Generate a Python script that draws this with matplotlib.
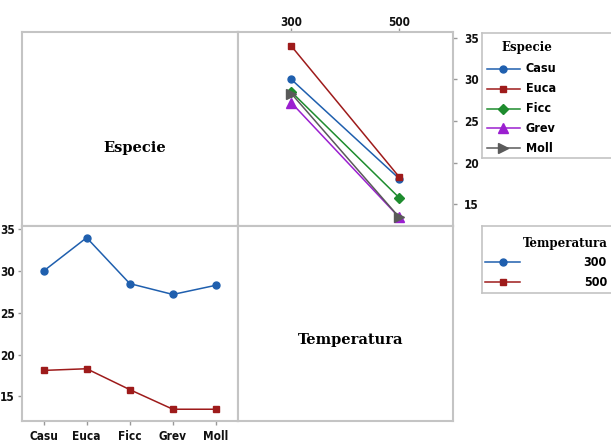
import matplotlib
matplotlib.use("Agg")
import matplotlib.pyplot as plt

# data: mean response by Especie x Temperatura
especies = ["Casu", "Euca", "Ficc", "Grev", "Moll"]
temperaturas = ["300", "500"]
media_300 = [30.0, 34.0, 28.5, 27.2, 28.3]
media_500 = [18.1, 18.3, 15.8, 13.45, 13.45]
y_ticks = [15, 20, 25, 30, 35]

esp_colors = ["#1f5fae", "#9e1b1b", "#1e8c2e", "#9b1fd0", "#5a5a5a"]
esp_markers = ["o", "s", "D", "^", ">"]
esp_msize = [5, 5, 5, 7, 7]
temp_colors = ["#1f5fae", "#9e1b1b"]
temp_markers = ["o", "s"]

W, H = 611, 443
tick_font = "DejaVu Sans"
title_font = "DejaVu Serif"
spine_col = "#c4c4c4"

fig = plt.figure(figsize=(W / 100, H / 100), dpi=100)


def px_axes(x0, y0, x1, y1):
    # pixel box (top-left origin) -> figure axes
    return fig.add_axes([x0 / W, 1 - y1 / H, (x1 - x0) / W, (y1 - y0) / H])


def style(ax):
    for s in ax.spines.values():
        s.set_color(spine_col)
        s.set_linewidth(1.5)
    ax.tick_params(colors="#111111", length=3, width=1, labelsize=8.5, pad=2)
    ax.tick_params(axis="both", color="#999999")
    for lab in ax.get_xticklabels() + ax.get_yticklabels():
        lab.set_family(tick_font)
        lab.set_stretch("condensed")
        lab.set_fontweight("bold")


xl, xm, xr = 22, 237.5, 453
yt, ym, yb = 32, 226, 420.5

ax_tl = px_axes(xl, yt, xm, ym)
ax_tr = px_axes(xm, yt, xr, ym)
ax_bl = px_axes(xl, ym, xm, yb)
ax_br = px_axes(xm, ym, xr, yb)

# top-left / bottom-right: variable names only
for ax, name, pos in [(ax_tl, "Especie", (0.524, 0.402)),
                      (ax_br, "Temperatura", (0.527, 0.414))]:
    ax.set_xticks([])
    ax.set_yticks([])
    for s in ax.spines.values():
        s.set_color(spine_col)
        s.set_linewidth(1.5)
    ax.text(pos[0], pos[1], name, ha="center", va="center", transform=ax.transAxes,
            family=title_font, fontweight="bold", fontsize=10.5)

# top-right: x = Temperatura, one line per Especie
for i, esp in enumerate(especies):
    ax_tr.plot([0, 1], [media_300[i], media_500[i]], color=esp_colors[i],
               marker=esp_markers[i], ms=esp_msize[i], lw=1.1)
ax_tr.set_xlim(-0.5, 1.5)
ax_tr.set_ylim(12.4, 35.7)
ax_tr.set_xticks([0, 1])
ax_tr.set_xticklabels(temperaturas)
ax_tr.set_yticks(y_ticks)
ax_tr.xaxis.tick_top()
ax_tr.yaxis.tick_right()
style(ax_tr)
ax_tr.tick_params(axis="y", pad=5)
ax_tr.tick_params(axis="x", pad=-1)

# bottom-left: x = Especie, one line per Temperatura
xs = list(range(len(especies)))
for vals, c, m in zip([media_300, media_500], temp_colors, temp_markers):
    ax_bl.plot(xs, vals, color=c, marker=m, ms=5, lw=1.1)
ax_bl.set_xlim(-0.5, 4.5)
ax_bl.set_ylim(12.1, 35.4)
ax_bl.set_xticks(xs)
ax_bl.set_xticklabels(especies)
ax_bl.set_yticks(y_ticks)
style(ax_bl)
ax_bl.tick_params(axis="x", pad=4)

# legend: Especie
lg1 = px_axes(482, 33, 640, 158)
lg1.set_xlim(482, 640)
lg1.set_ylim(158, 33)
lg1.set_xticks([])
lg1.set_yticks([])
for s in lg1.spines.values():
    s.set_color(spine_col)
    s.set_linewidth(1.2)
lg1.text(527, 48, "Especie", ha="center", va="center", family=title_font,
         fontweight="bold", fontsize=8.5)
for i, esp in enumerate(especies):
    yy = 69 + i * 19.8
    lg1.plot([487, 520], [yy, yy], color=esp_colors[i], lw=1.1)
    lg1.plot([503], [yy], color=esp_colors[i], marker=esp_markers[i], ms=esp_msize[i])
    lg1.text(526, yy, esp, ha="left", va="center", family=tick_font,
             stretch="condensed", fontweight="bold", fontsize=9)

# legend: Temperatura
lg2 = px_axes(482, 226, 640, 293)
lg2.set_xlim(482, 640)
lg2.set_ylim(293, 226)
lg2.set_xticks([])
lg2.set_yticks([])
for s in lg2.spines.values():
    s.set_color(spine_col)
    s.set_linewidth(1.2)
lg2.text(565, 243, "Temperatura", ha="center", va="center", family=title_font,
         fontweight="bold", fontsize=8.5)
for i, t in enumerate(temperaturas):
    yy = 262 + i * 20
    lg2.plot([485, 520], [yy, yy], color=temp_colors[i], lw=1.1)
    lg2.plot([503], [yy], color=temp_colors[i], marker=temp_markers[i], ms=5)
    lg2.text(607, yy, t, ha="right", va="center", family=tick_font,
             stretch="condensed", fontweight="bold", fontsize=9)

fig.savefig("out.png", dpi=100)
